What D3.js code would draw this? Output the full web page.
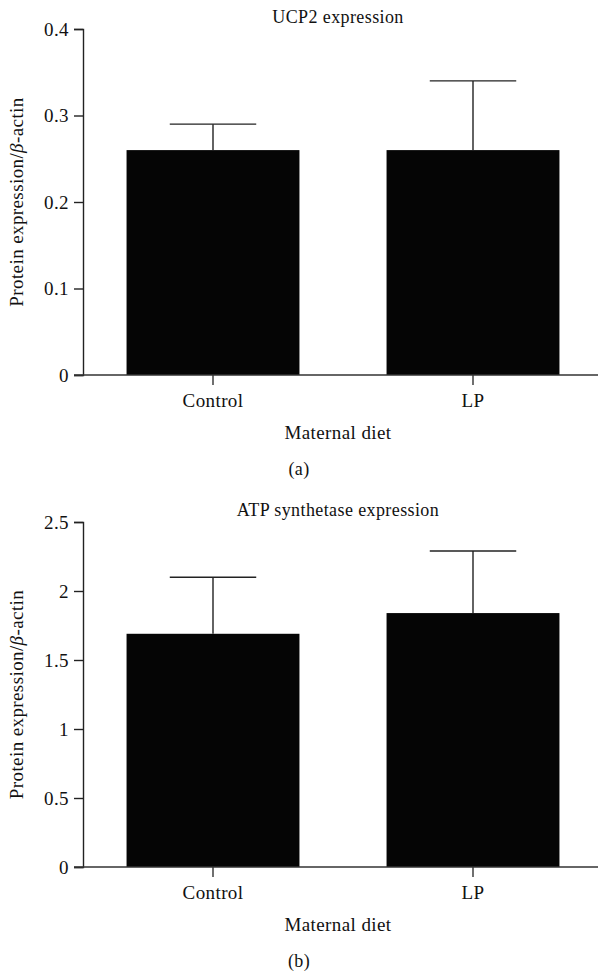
<!DOCTYPE html>
<html>
<head>
<meta charset="UTF-8">
<title>UCP2 and ATP synthetase expression</title>
<script src="https://cdn.jsdelivr.net/npm/d3@7"></script>
<style>
  body { margin: 0; background: #fff; }
  svg text { font-family: "Liberation Serif", "DejaVu Serif", serif; fill: #111; letter-spacing: 0.4px; }
</style>
</head>
<body>
<div id="chart"></div>
<script>
// values
var groups = ["Control", "LP"];
var ucp2Mean = [0.26, 0.26];
var ucp2Err = [0.03, 0.08];
var atpMean = [1.69, 1.84];
var atpErr = [0.41, 0.45];
var ucp2Ticks = [0, 0.1, 0.2, 0.3, 0.4];
var atpTicks = [0, 0.5, 1, 1.5, 2, 2.5];

var W = 599, H = 976;
var FS = 19;
var svg = d3.select("#chart").append("svg")
    .attr("width", W)
    .attr("height", H);

var x = d3.scaleBand()
    .domain(groups)
    .range([83, 603])
    .paddingInner(0.335)
    .paddingOuter(0.1675);

function drawPanel(p) {
  var y = d3.scaleLinear()
      .domain([0, p.ticks[p.ticks.length - 1]])
      .range([p.bottom, p.top]);

  var g = svg.append("g");

  // bars
  g.selectAll("rect.bar")
    .data(groups)
    .enter().append("rect")
      .attr("class", "bar")
      .attr("x", function(d) { return x(d); })
      .attr("width", x.bandwidth())
      .attr("y", function(d, i) { return y(p.mean[i]); })
      .attr("height", function(d, i) { return y(0) - y(p.mean[i]); })
      .attr("fill", "#050505");

  // error bars (upper only)
  var eb = g.selectAll("g.err")
    .data(groups)
    .enter().append("g")
      .attr("class", "err")
      .attr("stroke", "#222")
      .attr("stroke-width", 1.4);
  eb.append("line")
      .attr("x1", function(d) { return x(d) + x.bandwidth() / 2; })
      .attr("x2", function(d) { return x(d) + x.bandwidth() / 2; })
      .attr("y1", function(d, i) { return y(p.mean[i]); })
      .attr("y2", function(d, i) { return y(p.mean[i] + p.err[i]); });
  eb.append("line")
      .attr("x1", function(d) { return x(d) + x.bandwidth() / 4; })
      .attr("x2", function(d) { return x(d) + x.bandwidth() * 3 / 4; })
      .attr("y1", function(d, i) { return y(p.mean[i] + p.err[i]); })
      .attr("y2", function(d, i) { return y(p.mean[i] + p.err[i]); });

  // y axis
  var yAxis = g.append("g")
      .attr("transform", "translate(83,0)")
      .call(d3.axisLeft(y).tickValues(p.ticks).tickSize(9).tickPadding(5)
        .tickFormat(function(d) { return String(d); }));
  yAxis.select(".domain").attr("stroke", "#222").attr("stroke-width", 1.4);
  yAxis.selectAll(".tick line").attr("stroke", "#222").attr("stroke-width", 1.4);
  yAxis.selectAll("text").attr("font-size", FS).attr("fill", "#111")
      .attr("font-family", "Liberation Serif, DejaVu Serif, serif");

  // x axis: baseline runs past the bars to the right edge
  g.append("line")
      .attr("x1", 74).attr("x2", 598)
      .attr("y1", y(0)).attr("y2", y(0))
      .attr("stroke", "#333").attr("stroke-width", 1.6);
  var xAxis = g.append("g")
      .attr("transform", "translate(0," + y(0) + ")")
      .call(d3.axisBottom(x).tickSize(10).tickPadding(9));
  xAxis.select(".domain").remove();
  xAxis.selectAll(".tick line").attr("stroke", "#333").attr("stroke-width", 1.4);
  xAxis.selectAll("text").attr("font-size", FS).attr("fill", "#111")
      .attr("font-family", "Liberation Serif, DejaVu Serif, serif");

  // title
  g.append("text")
      .attr("x", 338).attr("y", p.top - 6)
      .attr("text-anchor", "middle")
      .attr("font-size", FS - 1)
      .text(p.title);

  // x label
  g.append("text")
      .attr("x", 338).attr("y", y(0) + 64)
      .attr("text-anchor", "middle")
      .attr("font-size", FS)
      .text("Maternal diet");

  // panel letter
  g.append("text")
      .attr("x", 299).attr("y", y(0) + 100)
      .attr("text-anchor", "middle")
      .attr("font-size", FS - 1)
      .text(p.letter);

  // y label
  var yl = g.append("text")
      .attr("transform", "translate(23," + ((p.top + p.bottom) / 2) + ") rotate(-90)")
      .attr("text-anchor", "middle")
      .attr("font-size", FS);
  yl.append("tspan").text("Protein expression/");
  yl.append("tspan").attr("font-style", "italic").text("β");
  yl.append("tspan").text("-actin");
}

drawPanel({ mean: ucp2Mean, err: ucp2Err, ticks: ucp2Ticks, top: 29, bottom: 375,
            title: "UCP2 expression", letter: "(a)" });
drawPanel({ mean: atpMean, err: atpErr, ticks: atpTicks, top: 522, bottom: 867,
            title: "ATP synthetase expression", letter: "(b)" });
</script>
</body>
</html>
